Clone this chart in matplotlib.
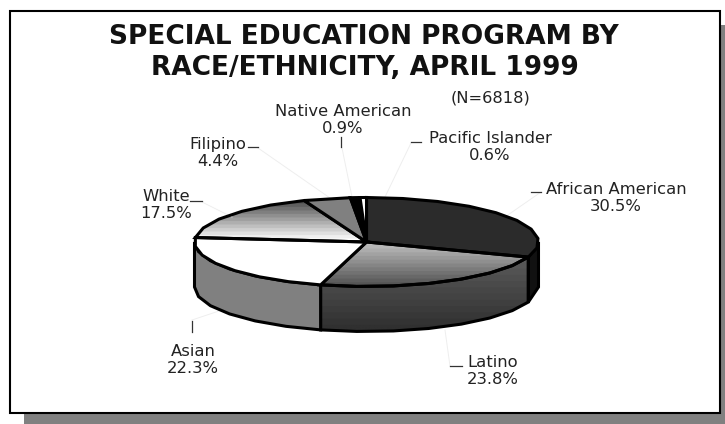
import numpy as np
import matplotlib
matplotlib.use("Agg")
import matplotlib.pyplot as plt
from matplotlib.patches import Polygon, Rectangle

plt.rcParams['font.family'] = ['DejaVu Sans']

groups = ["African American", "Latino", "Asian", "White", "Filipino", "Native American", "Pacific Islander"]
shares = [30.5, 23.8, 22.3, 17.5, 4.4, 0.9, 0.6]

# top face colours, a pair means a vertical gradient
top_colors = ["#2b2b2b", ("#c0c0c0", "#555555"), "#ffffff", ("#505050", "#ffffff"), "#808080", "#000000", "#ffffff"]
side_colors = ["#111111", ("#5a5a5a", "#303030"), "#808080", "#808080", "#808080", "#000000", "#ffffff"]

cx, cy = 366.5, 242
rx, ry = 172, 44.5
depth = 45


def rim(a0, a1):
    # coarse steps on purpose, the original outline is jagged
    n = max(2, int((a1 - a0) / 11) + 1)
    a = np.radians(np.linspace(a0, a1, n))
    return np.column_stack([cx + rx * np.sin(a), cy - ry * np.cos(a)])


def fill(ax, pts, color):
    if isinstance(color, tuple):
        patch = Polygon(pts, closed=True, fc="none", ec="none")
        ax.add_patch(patch)
        c0 = np.array(matplotlib.colors.to_rgb(color[0]))
        c1 = np.array(matplotlib.colors.to_rgb(color[1]))
        levels = 12
        t = np.floor(np.linspace(0, 1, 120) * levels) / (levels - 1)
        t = np.clip(t, 0, 1)
        img = np.array([[c0 * (1 - v) + c1 * v] for v in t])
        box = (pts[:, 0].min(), pts[:, 0].max(), pts[:, 1].max(), pts[:, 1].min())
        im = ax.imshow(img, extent=box, aspect="auto", zorder=2)
        im.set_clip_path(patch)
        ax.add_patch(Polygon(pts, closed=True, fc="none", ec="black", lw=2.2, zorder=3))
    else:
        ax.add_patch(Polygon(pts, closed=True, fc=color, ec="black", lw=2.2, zorder=3))


fig = plt.figure(figsize=(7.25, 4.24), dpi=100)
ax = fig.add_axes([0, 0, 1, 1])
ax.set_xlim(0, 725)
ax.set_ylim(424, 0)
ax.axis("off")

# frame with drop shadow
ax.add_patch(Rectangle((24, 25), 710, 410, fc="#808080", ec="none", zorder=0))
ax.add_patch(Rectangle((10, 11), 710, 402, fc="white", ec="black", lw=1.5, zorder=1))

edges = np.cumsum([0] + shares) / 100 * 360

# walls first, only the front part of the rim shows
for i in range(len(shares)):
    a0 = max(edges[i], 90)
    a1 = min(edges[i + 1], 270)
    if a1 <= a0:
        continue
    r = rim(a0, a1)
    pts = np.vstack([r, (r + [0, depth])[::-1]])
    fill(ax, pts, side_colors[i])

for i in range(len(shares)):
    r = rim(edges[i], edges[i + 1])
    pts = np.vstack([[cx, cy], r])
    fill(ax, pts, top_colors[i])

ax.text(364, 37, "SPECIAL EDUCATION PROGRAM BY", ha="center", va="center", fontsize=19, fontweight="bold",
        color="#111111", zorder=5)
ax.text(365, 68, "RACE/ETHNICITY, APRIL 1999", ha="center", va="center", fontsize=19, fontweight="bold",
        color="#111111", zorder=5)
ax.text(491, 98, "(N=6818)", ha="center", va="center", fontsize=11.7, color="#222222", zorder=5)

label_pos = [(616, 198), (493, 371), (193, 360), (166, 205), (218, 153), (343, 120), (490, 147)]
for name, val, (x, y) in zip(groups, shares, label_pos):
    ax.text(x, y, f"{name}\n{val}%", ha="center", va="center", fontsize=11.8, linespacing=1.12,
            color="#222222", zorder=5)

# leader ticks next to the labels
ticks = [(531, 541, 192, 192), (450, 462, 366, 366), (192, 192, 321, 332), (190, 202, 201, 201),
         (248, 258, 147, 147), (341, 341, 137, 147), (411, 421, 142, 142)]
for x0, x1, y0, y1 in ticks:
    ax.plot([x0, x1], [y0, y1], color="#333333", lw=0.9, zorder=5)

# faint leaders running into the pie
faint = [(541, 192, 505, 217), (450, 366, 445, 330), (192, 320, 222, 310), (202, 202, 232, 217),
         (258, 148, 330, 198), (342, 148, 352, 197), (411, 143, 385, 197)]
for x0, y0, x1, y1 in faint:
    ax.plot([x0, x1], [y0, y1], color="#eeeeee", lw=0.7, zorder=2)

fig.savefig("out.png", dpi=100)
